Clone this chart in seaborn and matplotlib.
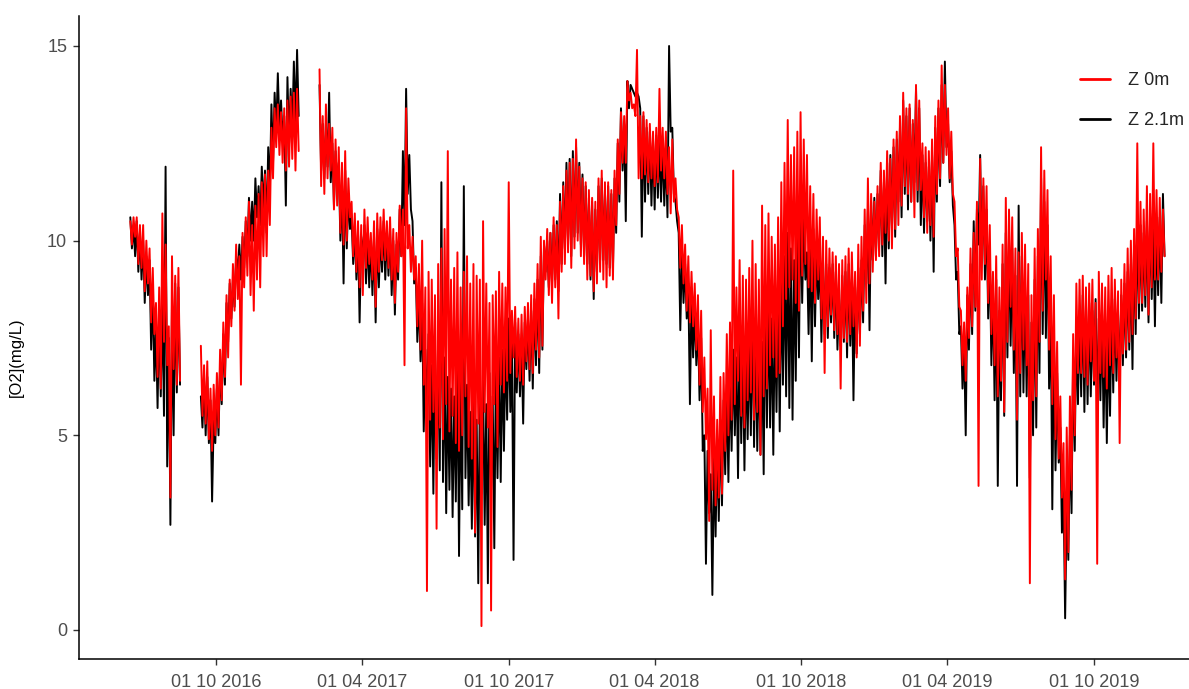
import numpy as np
import pandas as pd
import matplotlib
matplotlib.use("Agg")
import matplotlib.pyplot as plt
import seaborn as sns

# ---------------- data: dissolved O2 (mg/L) ----------------
# For every 4-day block: block high (read at day 0) and block low (read at day 2).
BLOCK_DAYS = 4
colors = {"Z 0m": "#FF0000", "Z 2.1m": "#000000"}
segment_starts = ["2016-06-16", "2016-09-12", "2017-02-07"]
tick_dates = ["2016-10-01", "2017-04-01", "2017-10-01", "2018-04-01",
              "2018-10-01", "2019-04-01", "2019-10-01"]
tick_labels = ["01 10 2016", "01 04 2017", "01 10 2017", "01 04 2018",
               "01 10 2018", "01 04 2019", "01 10 2019"]

# ---- Z 0m (surface) ----
z0_hi_2016a = [10.5, 10.6, 10.6, 10.4, 10.4, 10.0, 9.8, 9.3, 8.4, 8.8, 10.7, 9.9, 7.8, 9.6, 9.1, 9.3]
z0_lo_2016a = [9.9, 10.1, 9.4, 9.3, 8.7, 8.9, 7.9, 7.6, 6.5, 6.2, 7.4, 6.8, 3.4, 6.7, 6.3, 6.4]
z0_hi_2016b = [7.3, 6.8, 6.9, 6.2, 6.3, 6.6, 7.2, 7.9, 8.6, 9.0, 9.4, 9.9, 9.6, 10.2, 10.6, 11.0,
               10.4, 10.9, 11.2, 11.5, 11.7, 11.8, 12.9, 13.4, 13.5, 13.3, 13.4, 13.6, 13.7, 13.8, 13.9]
z0_lo_2016b = [5.5, 5.3, 4.9, 4.6, 5.0, 5.2, 5.9, 6.5, 7.0, 7.8, 8.2, 8.5, 6.3, 8.8, 9.1, 8.6,
               8.2, 9.0, 8.8, 9.6, 9.6, 10.4, 11.6, 12.4, 12.2, 12.0, 11.8, 11.9, 12.1, 11.8, 12.3]
z0_hi_2017 = [14.4, 13.2, 13.5, 13.0, 12.9, 12.6, 12.4, 12.0, 12.3, 11.6,
              11.0, 10.7, 10.5, 10.4, 10.8, 10.6, 10.2, 10.5, 10.7, 10.6,
              10.8, 10.5, 10.6, 10.3, 10.2, 10.9, 10.8, 13.4, 10.4, 10.1,
              9.6, 9.4, 10.0, 8.8, 9.2, 9.0, 8.6, 9.4, 9.8, 10.3,
              12.3, 9.0, 9.3, 9.7, 8.8, 9.2, 9.6, 8.9, 9.4, 9.1,
              9.0, 10.5, 8.9, 8.4, 8.6, 8.7, 9.2, 8.9, 8.8, 11.5,
              8.2, 8.3, 8.0, 8.1, 8.3, 8.4, 8.6, 8.9, 9.4, 10.1,
              10.0, 10.3, 10.2, 10.6, 10.4, 11.0, 11.4, 11.8, 12.0, 12.1,
              12.6, 11.9]
z0_lo_2017 = [11.4, 11.2, 11.6, 11.8, 10.8, 10.9, 10.2, 9.9, 10.0, 10.6,
              9.6, 9.2, 8.8, 8.6, 9.3, 9.4, 9.0, 8.3, 9.2, 9.5,
              9.5, 9.3, 9.0, 8.4, 9.2, 9.6, 6.8, 9.8, 9.2, 9.0,
              7.8, 7.2, 6.3, 1.0, 5.4, 5.6, 2.6, 5.2, 4.9, 5.8,
              5.1, 5.5, 4.8, 4.6, 5.0, 6.0, 4.7, 4.4, 2.5, 5.3,
              0.1, 5.6, 5.2, 0.5, 5.8, 4.7, 6.3, 6.1, 6.4, 6.6,
              7.0, 6.5, 6.4, 6.3, 6.9, 6.7, 6.6, 7.2, 7.0, 7.3,
              9.0, 8.6, 8.4, 8.8, 8.0, 9.2, 9.4, 9.7, 9.3, 9.8,
              10.0, 9.6]
z0_hi_2018 = [11.6, 11.5, 11.3, 11.1, 11.0, 11.6, 11.8, 11.5,
              11.5, 11.3, 11.8, 12.6, 13.3, 13.2, 14.1, 13.8, 13.5, 14.9,
              13.2, 13.3, 13.1, 13.0, 12.8, 12.9, 13.9, 12.9, 12.8, 12.4,
              12.6, 11.6, 10.6, 10.4, 9.9, 9.6, 9.2, 8.9, 8.6, 8.2,
              7.0, 6.2, 7.7, 6.0, 5.4, 6.5, 6.6, 7.6, 7.9, 11.8,
              8.8, 9.5, 9.1, 9.0, 9.3, 10.0, 9.4, 9.0, 10.9, 10.4,
              10.7, 10.1, 9.9, 10.6, 11.5, 12.0, 13.1, 12.2, 12.4, 12.8,
              13.3, 12.6, 12.2, 11.4, 11.2, 10.8, 10.6, 10.1, 10.0, 9.8,
              9.7, 9.6, 9.4, 9.5, 9.6, 9.8, 9.7, 9.2, 9.9, 10.1,
              10.8, 11.6, 11.2, 11.0]
z0_lo_2018 = [9.4, 9.0, 9.1, 8.7, 8.9, 9.2, 9.0, 8.8,
              9.1, 9.0, 10.4, 11.2, 12.0, 12.0, 13.6, 13.4, 13.2, 11.6,
              11.6, 11.7, 11.5, 11.6, 11.4, 11.5, 11.8, 11.6, 11.2, 10.7,
              11.0, 10.8, 9.3, 8.9, 8.2, 7.9, 7.8, 7.2, 6.3, 5.6,
              4.9, 2.8, 3.6, 3.2, 3.4, 3.5, 4.6, 5.0, 5.4, 5.8,
              6.4, 5.5, 5.2, 5.9, 6.1, 5.4, 5.6, 4.5, 6.0, 6.2,
              6.8, 7.0, 6.5, 6.6, 7.8, 8.5, 8.8, 9.0, 8.4, 8.2,
              9.1, 9.4, 8.8, 8.7, 8.4, 9.0, 8.0, 6.6, 7.8, 8.1,
              7.7, 7.6, 6.2, 7.5, 7.4, 7.6, 7.8, 7.0, 7.3, 8.2,
              8.4, 8.9, 9.2, 9.5]
z0_hi_2019 = [11.4, 12.0, 11.8, 12.3, 12.1, 12.6,
              12.8, 13.2, 13.8, 13.4, 13.5, 13.1, 14.0, 13.6, 12.5, 12.4,
              12.3, 12.6, 13.2, 13.6, 14.5, 14.0, 13.4, 12.8, 11.0, 9.8,
              8.2, 7.9, 8.8, 9.8, 10.2, 11.0, 12.1, 11.6, 11.4, 10.4,
              9.2, 9.6, 8.8, 9.9, 11.1, 10.8, 10.6, 9.8, 9.7, 10.2,
              9.9, 9.4, 8.6, 9.8, 10.3, 12.4, 11.8, 11.3, 9.6, 8.6,
              7.4, 6.0, 4.8, 5.2, 6.0, 7.6, 8.9, 9.0, 9.1, 8.8,
              8.9, 9.0, 8.4, 9.2, 8.9, 8.8, 9.1, 9.3, 9.0, 8.7,
              9.0, 9.4, 9.8, 10.0, 10.3, 12.5, 11.0, 10.8, 11.4, 11.2, 12.5, 11.3, 11.1, 10.8]
z0_lo_2019 = [9.6, 9.9, 10.2, 10.0, 9.8, 10.3,
              10.4, 10.9, 11.4, 11.2, 11.0, 10.6, 11.3, 11.3, 10.6, 10.2,
              10.4, 10.1, 11.2, 11.6, 12.0, 12.2, 11.6, 11.2, 9.6, 8.3,
              6.8, 6.4, 7.5, 7.8, 8.3, 3.7, 9.0, 9.4, 8.4, 7.6,
              6.8, 6.0, 6.4, 5.6, 7.4, 8.3, 7.2, 5.4, 6.6, 7.2,
              6.8, 1.2, 5.9, 6.0, 7.4, 8.2, 9.0, 7.2, 5.8, 4.9,
              4.4, 3.4, 1.3, 2.0, 3.6, 5.0, 6.6, 6.6, 6.5, 6.3,
              6.9, 6.4, 1.7, 6.6, 6.5, 6.2, 6.8, 6.6, 7.0, 4.8,
              7.1, 7.2, 7.4, 7.6, 8.0, 8.4, 8.4, 8.6, 8.1, 8.8, 9.0, 9.0, 9.2, 9.6]

# ---- Z 2.1m ----
z2_hi_2016a = [10.6, 10.4, 10.5, 10.2, 10.0, 9.6, 9.5, 8.8, 7.8, 8.2, 8.5, 11.9, 7.5, 8.4, 8.9, 8.8]
z2_lo_2016a = [9.8, 9.6, 9.2, 9.0, 8.4, 8.6, 7.2, 6.4, 5.7, 6.0, 5.5, 4.2, 2.7, 5.0, 6.1, 6.3]
z2_hi_2016b = [6.0, 6.4, 6.5, 5.9, 5.4, 6.2, 6.8, 7.6, 8.4, 8.9, 9.0, 9.6, 9.9, 10.1, 10.5, 11.1,
               11.0, 11.6, 11.4, 11.9, 11.8, 12.4, 13.5, 13.8, 14.3, 13.6, 13.2, 14.2, 13.9, 14.6, 14.9]
z2_lo_2016b = [5.2, 5.0, 4.8, 3.3, 4.8, 5.0, 5.8, 6.3, 7.4, 8.0, 8.3, 9.2, 9.0, 9.3, 9.6, 10.0,
               10.0, 10.6, 10.4, 10.8, 10.2, 11.2, 12.0, 12.8, 12.9, 12.6, 10.9, 12.5, 12.8, 13.0, 13.2]
z2_hi_2017 = [14.0, 13.0, 13.0, 13.8, 12.5, 12.3, 12.0, 11.5, 11.8, 11.2,
              10.6, 10.3, 10.2, 10.1, 10.4, 10.2, 10.0, 10.1, 10.3, 10.2,
              10.5, 10.2, 10.3, 10.0, 9.9, 10.8, 12.3, 13.9, 12.2, 10.5,
              9.3, 8.6, 8.4, 7.2, 7.6, 6.8, 7.3, 6.9, 11.5, 7.0,
              6.5, 6.2, 6.0, 7.1, 6.4, 11.4, 6.3, 5.6, 6.0, 5.4,
              6.1, 6.4, 5.8, 6.6, 6.0, 6.8, 7.0, 7.2, 7.4, 8.0,
              7.5, 7.9, 7.6, 7.4, 7.9, 8.0, 8.2, 8.5, 9.0, 9.6,
              9.9, 10.0, 10.2, 10.4, 10.5, 11.2, 11.5, 12.0, 12.1, 12.3,
              12.4, 12.0]
z2_lo_2017 = [11.8, 11.6, 11.9, 11.5, 10.9, 11.4, 10.0, 8.9, 9.8, 10.3,
              9.4, 9.0, 7.9, 9.6, 8.9, 8.8, 8.6, 7.9, 8.8, 9.2,
              9.0, 9.1, 8.6, 8.1, 9.0, 9.6, 10.4, 11.2, 10.8, 8.9,
              7.4, 6.9, 5.1, 5.6, 4.2, 3.5, 4.4, 4.1, 3.8, 3.0,
              3.6, 2.9, 3.3, 1.9, 3.1, 3.9, 3.2, 2.6, 2.4, 1.2,
              3.5, 2.7, 1.2, 3.6, 2.1, 3.9, 3.8, 4.6, 5.4, 5.6,
              1.8, 6.1, 6.0, 5.3, 6.7, 6.4, 6.2, 6.8, 6.6, 7.2,
              9.2, 8.8, 8.9, 9.0, 8.7, 9.4, 9.8, 9.9, 9.6, 10.1,
              10.2, 9.9]
z2_hi_2018 = [11.7, 11.4, 11.1, 11.0, 10.8, 11.4, 11.6, 11.3,
              11.4, 11.2, 11.6, 12.5, 13.4, 13.0, 14.1, 14.0, 13.8, 13.8,
              13.4, 13.2, 12.9, 12.8, 12.6, 12.7, 12.6, 12.5, 12.3, 15.0,
              12.9, 11.0, 10.2, 9.8, 9.4, 8.9, 8.6, 8.3, 7.9, 7.5,
              5.0, 4.6, 4.0, 4.4, 4.8, 5.4, 5.9, 6.3, 6.6, 7.2,
              7.0, 7.8, 7.4, 7.2, 7.6, 8.2, 7.8, 7.1, 7.4, 8.8,
              8.6, 8.0, 8.3, 8.8, 9.2, 9.6, 10.2, 9.8, 9.5, 10.4,
              11.3, 10.6, 9.7, 9.9, 10.3, 9.8, 9.6, 9.5, 9.4, 9.3,
              9.4, 9.2, 8.5, 9.1, 9.2, 9.4, 9.0, 8.8, 9.3, 9.5,
              10.4, 10.8, 11.0, 11.1]
z2_lo_2018 = [9.6, 9.4, 9.0, 8.5, 9.2, 9.5, 9.5, 9.4,
              9.3, 9.3, 10.2, 11.0, 11.8, 10.5, 13.4, 13.9, 13.7, 13.7,
              10.1, 11.0, 11.2, 10.9, 10.8, 11.1, 11.0, 10.9, 10.6, 12.8,
              11.2, 10.5, 7.7, 8.4, 8.0, 5.8, 7.0, 6.8, 5.9, 4.6,
              1.7, 3.0, 0.9, 2.4, 2.8, 3.2, 4.0, 3.8, 4.6, 5.0,
              3.9, 4.8, 4.1, 4.9, 5.0, 4.7, 4.6, 4.5, 4.0, 5.2,
              5.2, 4.5, 5.6, 5.1, 6.3, 6.0, 5.7, 5.4, 6.4, 7.0,
              8.4, 9.0, 7.6, 6.9, 7.8, 8.5, 7.4, 7.6, 7.5, 7.9,
              7.5, 7.2, 7.3, 7.4, 7.0, 7.3, 5.9, 7.1, 7.6, 7.9,
              8.9, 7.7, 9.5, 9.6]
z2_hi_2019 = [11.2, 11.8, 11.5, 12.0, 12.2, 12.4,
              12.6, 12.9, 13.6, 13.2, 13.4, 13.0, 13.9, 13.4, 12.2, 12.0,
              11.9, 12.2, 12.9, 13.4, 14.0, 14.6, 13.0, 12.3, 10.4, 9.2,
              7.8, 7.4, 8.6, 9.4, 10.5, 10.8, 12.2, 11.4, 10.8, 9.8,
              8.8, 9.0, 8.2, 9.4, 10.2, 10.0, 9.8, 9.1, 10.9, 9.6,
              8.8, 8.6, 7.9, 9.0, 9.6, 11.6, 11.0, 10.4, 8.4, 7.6,
              6.6, 5.2, 3.6, 3.2, 5.0, 7.0, 7.8, 8.2, 8.6, 8.4,
              8.4, 8.2, 8.5, 8.0, 8.2, 7.8, 7.6, 8.3, 8.5, 8.1,
              8.6, 8.9, 9.2, 9.4, 9.9, 10.6, 10.4, 10.2, 10.5, 10.7, 10.4, 10.5, 10.6, 11.2]
z2_lo_2019 = [9.9, 9.6, 8.9, 9.8, 10.3, 10.1,
              11.0, 10.6, 11.2, 10.8, 11.0, 11.5, 11.0, 10.4, 10.2, 10.5,
              10.0, 9.2, 11.0, 11.4, 12.0, 12.4, 11.5, 10.9, 9.0, 7.6,
              6.2, 5.0, 7.2, 7.6, 8.2, 9.9, 9.5, 9.0, 8.0, 6.8,
              5.9, 3.7, 5.9, 5.5, 7.0, 7.3, 6.6, 3.7, 6.0, 6.1,
              6.0, 3.9, 5.0, 5.2, 6.6, 7.6, 7.5, 6.2, 3.1, 4.1,
              4.3, 2.5, 0.3, 1.8, 3.0, 4.6, 5.8, 6.0, 5.6, 5.8,
              6.0, 6.3, 5.6, 5.9, 5.2, 4.8, 5.5, 6.1, 6.4, 6.4,
              6.8, 7.0, 7.2, 6.7, 7.6, 8.0, 8.2, 8.3, 7.9, 8.5, 7.8, 8.6, 8.4, 9.6]

series = {
    "Z 0m": [(z0_hi_2016a, z0_lo_2016a), (z0_hi_2016b, z0_lo_2016b),
             (z0_hi_2017 + z0_hi_2018 + z0_hi_2019, z0_lo_2017 + z0_lo_2018 + z0_lo_2019)],
    "Z 2.1m": [(z2_hi_2016a, z2_lo_2016a), (z2_hi_2016b, z2_lo_2016b),
               (z2_hi_2017 + z2_hi_2018 + z2_hi_2019, z2_lo_2017 + z2_lo_2018 + z2_lo_2019)],
}

rows = []
for depth, segs in series.items():
    for k, (start, (hi, lo)) in enumerate(zip(segment_starts, segs)):
        vals = [v for pair in zip(hi, lo) for v in pair]
        dates = pd.date_range(start, periods=len(vals), freq=f"{BLOCK_DAYS // 2}D")
        rows.append(pd.DataFrame({"date": dates, "O2": vals, "depth": depth, "seg": k}))
df = pd.concat(rows, ignore_index=True)

# ---------------- plot ----------------
sns.set_style("ticks")
plt.rcParams["font.family"] = ["Liberation Sans", "DejaVu Sans"]

fig = plt.figure(figsize=(11.89, 6.89), dpi=100)
ax = fig.add_axes([79 / 1189, 1 - 659 / 689, 1 - 79 / 1189, (659 - 16) / 689])

sns.lineplot(data=df, x="date", y="O2", hue="depth", units="seg", estimator=None,
             hue_order=["Z 2.1m", "Z 0m"], palette=colors, linewidth=1.4,
             sort=True, ax=ax)

ax.set_xlim(pd.Timestamp("2016-04-13"), pd.Timestamp("2020-01-27 12:00"))
ax.set_ylim(-0.745, 15.77)
ax.set_yticks([0, 5, 10, 15])
ax.set_xticks(pd.to_datetime(tick_dates))
ax.set_xticklabels(tick_labels)
ax.set_xlabel("")
ax.set_ylabel("[O2](mg/L)", fontsize=12, color="black")
ax.yaxis.set_label_coords(-0.05, 0.47)

for s in ["top", "right"]:
    ax.spines[s].set_visible(False)
for s in ["left", "bottom"]:
    ax.spines[s].set_color("black")
    ax.spines[s].set_linewidth(1.1)
ax.tick_params(axis="both", direction="out", length=4.5, width=1.0, color="#333333",
               labelsize=13, labelcolor="#4D4D4D")
ax.tick_params(axis="x", pad=6)
ax.tick_params(axis="y", pad=4)

handles, labels = ax.get_legend_handles_labels()
hmap = dict(zip(labels, handles))
leg = ax.legend([hmap["Z 0m"], hmap["Z 2.1m"]], ["Z 0m", "Z 2.1m"],
                loc="upper left", bbox_to_anchor=(1080 / 1189, 1 - 72 / 689),
                bbox_transform=fig.transFigure, frameon=False, fontsize=13,
                handlelength=1.65, handletextpad=1.0, labelspacing=1.3,
                borderpad=0, borderaxespad=0)
for line in leg.get_lines():
    line.set_linewidth(2.0)

fig.savefig("out.png", dpi=100)
